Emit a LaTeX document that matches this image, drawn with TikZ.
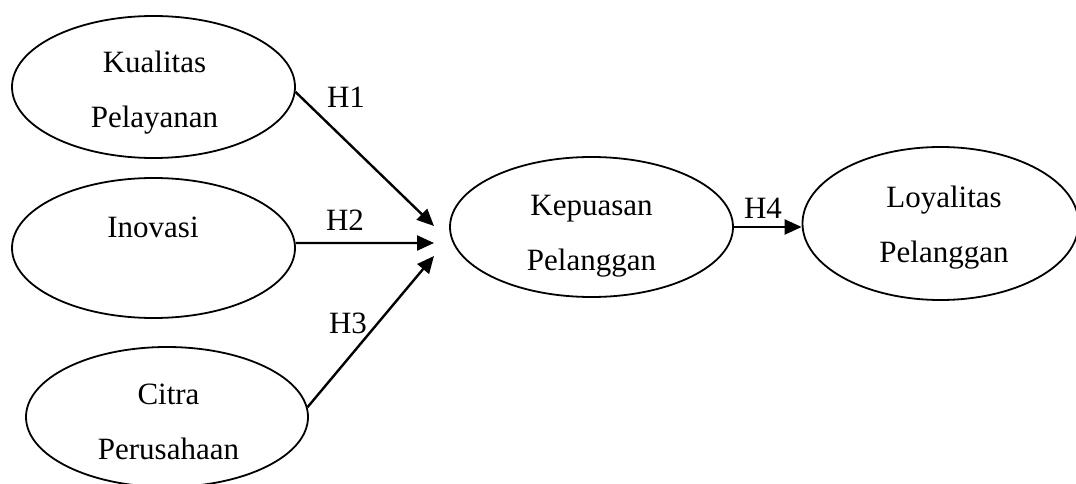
\documentclass[tikz,border=0pt]{standalone}
\usepackage{fontspec}
\setmainfont{Liberation Serif}
\usetikzlibrary{shapes.geometric,arrows.meta}
\begin{document}
\begin{tikzpicture}[x=1pt,y=-1pt,
  construct/.style={draw, line width=1.8pt, ellipse, inner sep=0pt},
  word/.style={font=\fontsize{31}{37}\selectfont, anchor=base, inner sep=0pt},
  hyp/.style={line width=2.4pt, -{Triangle[length=17pt,width=15pt]}}]
\useasboundingbox (0,0) rectangle (1076,484);

% latent constructs
\node[construct, minimum width=283pt, minimum height=142pt] (kp) at (153.5,87) {};
\node[construct, minimum width=283pt, minimum height=140pt] (in) at (153.5,248) {};
\node[construct, minimum width=282pt, minimum height=140pt] (cp) at (167,417) {};
\node[construct, minimum width=283pt, minimum height=140pt] (kep) at (591.5,227) {};
\node[construct, minimum width=276pt, minimum height=153pt] (loy) at (940.5,223.5) {};

% construct names
\node[word] (kpA) at (154.5,73) {Kualitas};
\node[word] (kpB) at (154.5,128) {Pelayanan};
\node[word] (inA) at (153,237) {Inovasi};
\node[word] (cpA) at (168.5,404) {Citra};
\node[word] (cpB) at (168.5,459) {Perusahaan};
\node[word] (kepA) at (591.5,215) {Kepuasan};
\node[word] (kepB) at (591.5,270) {Pelanggan};
\node[word] (loyA) at (944,207) {Loyalitas};
\node[word] (loyB) at (944,262) {Pelanggan};

% arrow heads meet just left of Kepuasan Pelanggan
\coordinate (m1) at (434,226);
\coordinate (m2) at (434,243);
\coordinate (m3) at (434,256);

% hypothesised paths
\draw[hyp] (kp.-2.4) -- (m1);
\draw[hyp] (in.2) -- (m2);
\draw[hyp] (cp.4) -- (m3);
\draw[hyp] (kep.east) -- (kep.east -| loy.west);

% path labels
\node[word] (h1) at (346,108) {H1};
\node[word] (h2) at (345,230) {H2};
\node[word] (h3) at (348,333) {H3};
\node[word] (h4) at (763,218) {H4};
\end{tikzpicture}
\end{document}
